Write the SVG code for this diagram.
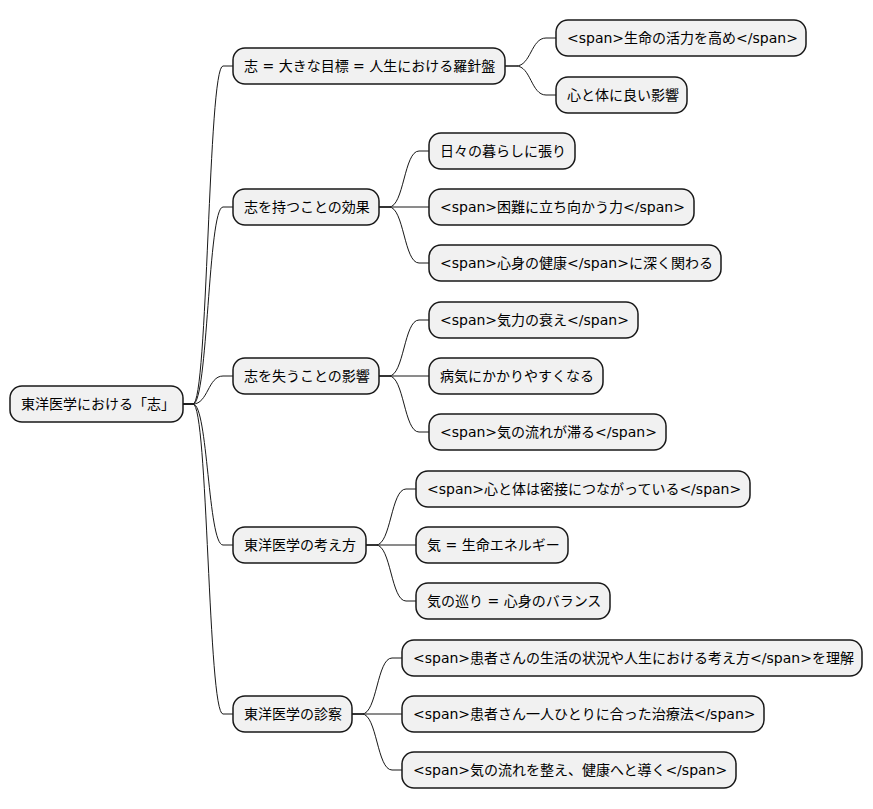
<svg xmlns="http://www.w3.org/2000/svg" width="873" height="809" viewBox="0 0 873 809">
<style>
.n rect{fill:#f1f1f1;stroke:#181818;stroke-width:1.5}
text{font-family:"DejaVu Sans","Noto Sans CJK JP",sans-serif;font-size:14px;fill:#000}
path{fill:none;stroke:#181818;stroke-width:1}
</style>
<rect width="873" height="809" fill="#ffffff"/>
<g id="connectors">
<path d="M183,404 H193 C208,404 208,66 223,66 H233"/>
<path d="M183,404 H193 C208,404 208,207 223,207 H233"/>
<path d="M183,404 H193 C208,404 208,376 223,376 H233"/>
<path d="M183,404 H193 C208,404 208,545 223,545 H233"/>
<path d="M183,404 H193 C208,404 208,714 223,714 H233"/>
<path d="M505,66 H516 C531,66 531,38 546,38 H556"/>
<path d="M505,66 H516 C531,66 531,95 546,95 H556"/>
<path d="M379,207 H389 C404,207 404,151 419,151 H429"/>
<path d="M379,207 H429"/>
<path d="M379,207 H389 C404,207 404,263 419,263 H429"/>
<path d="M379,376 H389 C404,376 404,320 419,320 H429"/>
<path d="M379,376 H429"/>
<path d="M379,376 H389 C404,376 404,432 419,432 H429"/>
<path d="M366,545 H376 C391,545 391,489 406,489 H416"/>
<path d="M366,545 H416"/>
<path d="M366,545 H376 C391,545 391,601 406,601 H416"/>
<path d="M352,714 H362 C377,714 377,658 392,658 H402"/>
<path d="M352,714 H402"/>
<path d="M352,714 H362 C377,714 377,770 392,770 H402"/>
</g>
<g id="root" class="n"><rect x="10" y="386" width="173" height="36" rx="12"/><text x="21" y="409">東洋医学における「志」</text></g>
<g id="n1" class="n"><rect x="233" y="48" width="272" height="36" rx="12"/><text x="244" y="71">志 = 大きな目標 = 人生における羅針盤</text></g>
<g id="n2" class="n"><rect x="233" y="189" width="146" height="36" rx="12"/><text x="244" y="212">志を持つことの効果</text></g>
<g id="n3" class="n"><rect x="233" y="358" width="146" height="36" rx="12"/><text x="244" y="381">志を失うことの影響</text></g>
<g id="n4" class="n"><rect x="233" y="527" width="133" height="36" rx="12"/><text x="244" y="550">東洋医学の考え方</text></g>
<g id="n5" class="n"><rect x="233" y="696" width="119" height="36" rx="12"/><text x="244" y="719">東洋医学の診察</text></g>
<g id="n11" class="n"><rect x="556" y="20" width="250" height="36" rx="12"/><text x="567" y="43">&lt;span&gt;生命の活力を高め&lt;/span&gt;</text></g>
<g id="n12" class="n"><rect x="556" y="77" width="131" height="36" rx="12"/><text x="567" y="100">心と体に良い影響</text></g>
<g id="n21" class="n"><rect x="429" y="133" width="146" height="36" rx="12"/><text x="440" y="156">日々の暮らしに張り</text></g>
<g id="n22" class="n"><rect x="429" y="189" width="265" height="36" rx="12"/><text x="440" y="212">&lt;span&gt;困難に立ち向かう力&lt;/span&gt;</text></g>
<g id="n23" class="n"><rect x="429" y="245" width="292" height="36" rx="12"/><text x="440" y="268">&lt;span&gt;心身の健康&lt;/span&gt;に深く関わる</text></g>
<g id="n31" class="n"><rect x="429" y="302" width="209" height="36" rx="12"/><text x="440" y="325">&lt;span&gt;気力の衰え&lt;/span&gt;</text></g>
<g id="n32" class="n"><rect x="429" y="358" width="174" height="36" rx="12"/><text x="440" y="381">病気にかかりやすくなる</text></g>
<g id="n33" class="n"><rect x="429" y="414" width="237" height="36" rx="12"/><text x="440" y="437">&lt;span&gt;気の流れが滞る&lt;/span&gt;</text></g>
<g id="n41" class="n"><rect x="416" y="471" width="334" height="36" rx="12"/><text x="427" y="494">&lt;span&gt;心と体は密接につながっている&lt;/span&gt;</text></g>
<g id="n42" class="n"><rect x="416" y="527" width="152" height="36" rx="12"/><text x="427" y="550">気 = 生命エネルギー</text></g>
<g id="n43" class="n"><rect x="416" y="583" width="194" height="36" rx="12"/><text x="427" y="606">気の巡り = 心身のバランス</text></g>
<g id="n51" class="n"><rect x="402" y="640" width="460" height="36" rx="12"/><text x="413" y="663">&lt;span&gt;患者さんの生活の状況や人生における考え方&lt;/span&gt;を理解</text></g>
<g id="n52" class="n"><rect x="402" y="696" width="362" height="36" rx="12"/><text x="413" y="719">&lt;span&gt;患者さん一人ひとりに合った治療法&lt;/span&gt;</text></g>
<g id="n53" class="n"><rect x="402" y="752" width="334" height="36" rx="12"/><text x="413" y="775">&lt;span&gt;気の流れを整え、健康へと導く&lt;/span&gt;</text></g>
</svg>
